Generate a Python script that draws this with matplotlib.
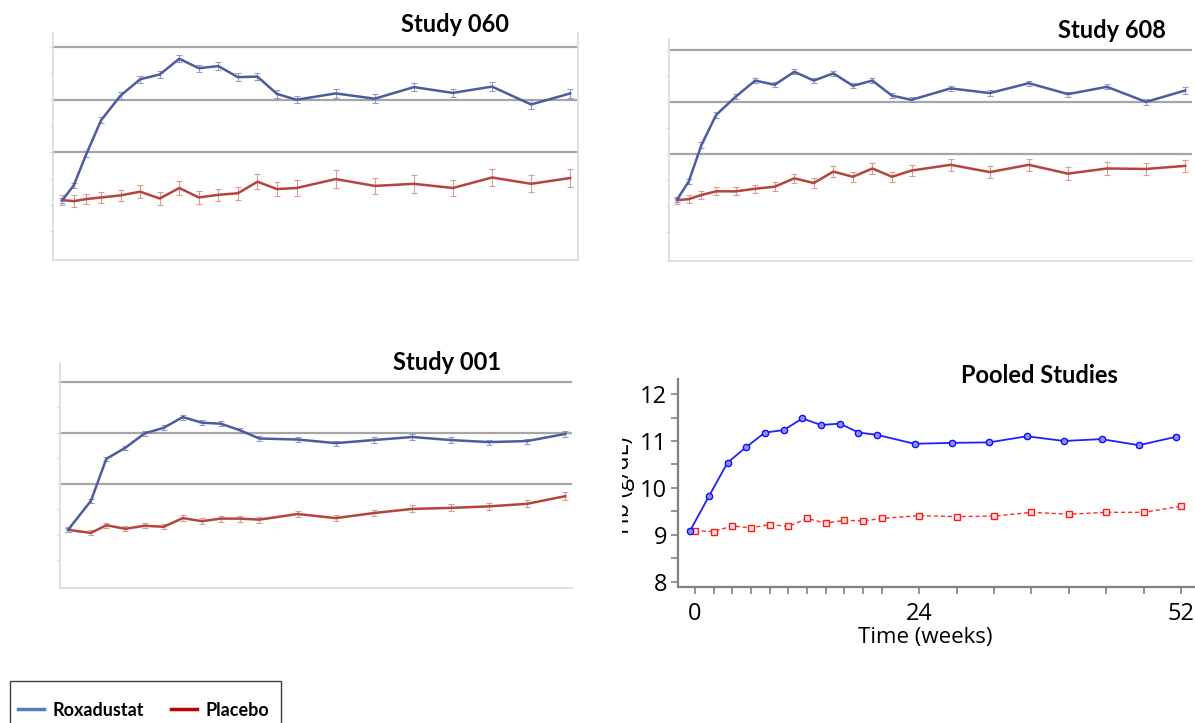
import matplotlib.pyplot as plt
from matplotlib.patches import Rectangle
from matplotlib.lines import Line2D

# Hb (g/dL) by week
weeks_060 = [0, 1.2, 2.5, 4, 6, 8, 10, 12, 14, 16, 18, 20, 22, 24, 28, 32, 36, 40, 44, 48, 52]
roxa_060 = [9.08, 9.37, 9.97, 10.61, 11.08, 11.39, 11.48, 11.78, 11.60, 11.64, 11.43,
            11.44, 11.11, 11.00, 11.12, 11.02, 11.24, 11.13, 11.25, 10.91, 11.12]
roxa_060_se = [0.05, 0.05, 0.06, 0.06, 0.06, 0.07, 0.07, 0.07, 0.07, 0.07, 0.07,
               0.07, 0.07, 0.07, 0.08, 0.08, 0.08, 0.08, 0.08, 0.08, 0.09]
plac_060 = [9.09, 9.07, 9.11, 9.14, 9.18, 9.25, 9.12, 9.32, 9.14, 9.19, 9.22,
            9.44, 9.30, 9.32, 9.49, 9.36, 9.40, 9.32, 9.52, 9.40, 9.51]
plac_060_se = [0.10, 0.12, 0.10, 0.10, 0.10, 0.12, 0.12, 0.14, 0.13, 0.12, 0.12,
               0.14, 0.13, 0.15, 0.17, 0.15, 0.17, 0.15, 0.17, 0.16, 0.18]

weeks_608 = [0, 1.2, 2.5, 4, 6, 8, 10, 12, 14, 16, 18, 20, 22, 24, 28, 32, 36, 40, 44, 48, 52]
roxa_608 = [9.12, 9.47, 10.17, 10.75, 11.10, 11.41, 11.33, 11.58, 11.41, 11.55, 11.31,
            11.41, 11.12, 11.04, 11.26, 11.17, 11.36, 11.15, 11.29, 11.00, 11.22]
roxa_608_se = [0.04, 0.04, 0.05, 0.05, 0.05, 0.05, 0.05, 0.05, 0.05, 0.05, 0.05,
               0.05, 0.05, 0.05, 0.05, 0.05, 0.05, 0.05, 0.05, 0.05, 0.06]
plac_608 = [9.11, 9.13, 9.21, 9.28, 9.28, 9.33, 9.37, 9.53, 9.44, 9.66, 9.56,
            9.72, 9.56, 9.68, 9.79, 9.65, 9.79, 9.62, 9.72, 9.71, 9.77]
plac_608_se = [0.07, 0.07, 0.07, 0.08, 0.08, 0.08, 0.08, 0.09, 0.09, 0.10, 0.10,
               0.10, 0.10, 0.10, 0.11, 0.11, 0.11, 0.12, 0.12, 0.12, 0.12]

weeks_001 = [0, 2.4, 4, 6, 8, 10, 12, 14, 16, 18, 20, 24, 28, 32, 36, 40, 44, 48, 52]
roxa_001 = [9.10, 9.67, 10.49, 10.71, 10.99, 11.10, 11.31, 11.20, 11.18, 11.05, 10.89,
            10.87, 10.80, 10.86, 10.92, 10.86, 10.82, 10.84, 10.98]
roxa_001_se = [0.04, 0.04, 0.04, 0.04, 0.05, 0.05, 0.05, 0.05, 0.05, 0.05, 0.05,
               0.05, 0.05, 0.05, 0.05, 0.05, 0.05, 0.05, 0.06]
plac_001 = [9.10, 9.04, 9.19, 9.12, 9.18, 9.16, 9.33, 9.27, 9.32, 9.32, 9.30,
            9.41, 9.33, 9.43, 9.51, 9.53, 9.56, 9.61, 9.76]
plac_001_se = [0.05, 0.05, 0.05, 0.05, 0.05, 0.05, 0.06, 0.06, 0.06, 0.06, 0.06,
               0.06, 0.06, 0.06, 0.07, 0.07, 0.07, 0.07, 0.08]

weeks_pool = [0, 2, 4, 6, 8, 10, 12, 14, 16, 18, 20, 24, 28, 32, 36, 40, 44, 48, 52]
roxa_pool = [9.09, 9.82, 10.54, 10.87, 11.18, 11.23, 11.48, 11.34, 11.37, 11.18, 11.13,
             10.94, 10.96, 10.97, 11.10, 11.00, 11.04, 10.91, 11.09]
plac_pool = [9.09, 9.07, 9.19, 9.15, 9.22, 9.18, 9.35, 9.25, 9.31, 9.30, 9.35,
             9.41, 9.39, 9.40, 9.48, 9.44, 9.48, 9.48, 9.61]
roxa_pool_se = 0.03
plac_pool_se = 0.04

W, H = 1195, 723


def px_axes(fig, left, top, right, bottom):
    # place an axes from pixel coords of the reference image
    return fig.add_axes([left / W, 1 - bottom / H, (right - left) / W, (bottom - top) / H])


def excel_panel(ax, weeks, roxa, roxa_se, plac, plac_se, xlim, ylim, right_border=False):
    ax.errorbar(weeks, plac, yerr=plac_se, color='#b5443c', lw=1.8, ecolor='#dc9a94',
                elinewidth=0.8, capsize=2, capthick=0.8, zorder=3)
    ax.errorbar(weeks, roxa, yerr=roxa_se, color='#4c5c9e', lw=1.8, ecolor='#8e9ad0',
                elinewidth=0.8, capsize=2, capthick=0.8, zorder=4)
    ax.set_xlim(*xlim)
    ax.set_ylim(*ylim)
    for g in (10, 11, 12):
        ax.axhline(g, color='#a6a6a6', lw=1.6, zorder=1)
    ax.set_xticks([])
    ax.set_yticks([8.5, 9, 9.5, 10, 10.5, 11, 11.5, 12])
    ax.set_yticklabels([])
    ax.tick_params(axis='y', length=2, color='#d0d0d0', width=0.8)
    ax.spines['top'].set_visible(False)
    ax.spines['right'].set_visible(right_border)
    for s in ('left', 'bottom', 'right'):
        ax.spines[s].set_color('#dadada')
        ax.spines[s].set_linewidth(1.2)


fig = plt.figure(figsize=(W / 100, H / 100), dpi=100)
title_font = dict(family=['Lato', 'DejaVu Sans'], fontweight='bold', fontsize=17)
sans = ['Open Sans', 'DejaVu Sans']

ax1 = px_axes(fig, 53, 33, 578, 260)
excel_panel(ax1, weeks_060, roxa_060, roxa_060_se, plac_060, plac_060_se,
            (-0.92, 52.8), (7.95, 12.27), right_border=True)
fig.text(455 / W, 1 - 25 / H, 'Study 060', ha='center', va='center', **title_font)

ax2 = px_axes(fig, 669, 39, 1192, 261)
excel_panel(ax2, weeks_608, roxa_608, roxa_608_se, plac_608, plac_608_se,
            (-0.82, 52.7), (7.94, 12.21))
fig.text(1112 / W, 1 - 31 / H, 'Study 608', ha='center', va='center', **title_font)

ax3 = px_axes(fig, 60, 363, 572, 588)
excel_panel(ax3, weeks_001, roxa_001, roxa_001_se, plac_001, plac_001_se,
            (-0.84, 52.7), (7.96, 12.37))
fig.text(447 / W, 1 - 362 / H, 'Study 001', ha='center', va='center', **title_font)

# pooled panel
ax4 = px_axes(fig, 678, 379, 1195, 587)
roxa_x = [w - 0.5 for w in weeks_pool]
ax4.errorbar(weeks_pool, plac_pool, yerr=plac_pool_se, color='#ff2a2a', lw=1.0, ls=(0, (3, 2)),
             marker='s', ms=4.5, mfc='#ffe4e4', mec='#ff1a1a', mew=1.0,
             ecolor='#ff1a1a', elinewidth=0.8, capsize=2, zorder=3)
ax4.errorbar(roxa_x, roxa_pool, yerr=roxa_pool_se, color='#1f1fff', lw=1.3,
             marker='o', ms=4.5, mfc='#9090ff', mec='#1010ff', mew=1.0,
             ecolor='#0000cc', elinewidth=0.8, capsize=2, zorder=4)
ax4.set_xlim(-1.8, 53.5)
ax4.set_ylim(7.89, 12.32)
ax4.set_yticks([8, 9, 10, 11, 12])
ax4.set_yticks([8.5, 9.5, 10.5, 11.5], minor=True)
ax4.set_xticks([0, 24, 52])
ax4.set_xticks(weeks_pool, minor=True)
ax4.set_xticklabels(['0', '24', '52'])
for lab in ax4.get_xticklabels() + ax4.get_yticklabels():
    lab.set_fontfamily(sans)
    lab.set_fontsize(17)
ax4.tick_params(axis='both', which='both', length=5, width=1.2, color='#808080', pad=3)
ax4.tick_params(axis='x', which='major', pad=6)
ax4.spines['top'].set_visible(False)
ax4.spines['right'].set_visible(False)
for s in ('left', 'bottom'):
    ax4.spines[s].set_color('#808080')
    ax4.spines[s].set_linewidth(1.6)
ax4.set_xlabel('Time (weeks)', fontsize=16, family=sans)
ax4.xaxis.set_label_coords((925 - 678) / 517, -(638 - 587) / 208)
ax4.xaxis.label.set_va('center')
ax4.set_ylabel('Hb (g/dL)', fontsize=16.5, family=sans)
ax4.yaxis.set_label_coords(-0.083, 0.49)
fig.text(1039 / W, 1 - 375 / H, 'Pooled Studies', ha='center', va='center', **title_font)

# the pasted pooled image is cut off through the axis label
fig.patches.append(Rectangle((585 / W, 1 - 580 / H), 37 / W, 180 / H, transform=fig.transFigure,
                             facecolor='white', edgecolor='none', zorder=5))

# legend: items plus a plain box running off the bottom edge
handles = [Line2D([], [], color='#4f81bd', lw=2.5), Line2D([], [], color='#c00000', lw=2.5)]
fig.legend(handles, ['Roxadustat', 'Placebo'], loc='center left',
           bbox_to_anchor=(18 / W, 1 - 710 / H), ncol=2, frameon=False,
           borderpad=0, borderaxespad=0, handlelength=1.45, handletextpad=0.45,
           columnspacing=1.5, prop=dict(family=['Lato', 'DejaVu Sans'], weight='bold', size=13))
fig.patches.append(Rectangle((10 / W, 1 - 745 / H), 271 / W, 64 / H, transform=fig.transFigure,
                             facecolor='none', edgecolor='#404040', lw=1.0, zorder=6))

fig.savefig('out.png', dpi=100)
